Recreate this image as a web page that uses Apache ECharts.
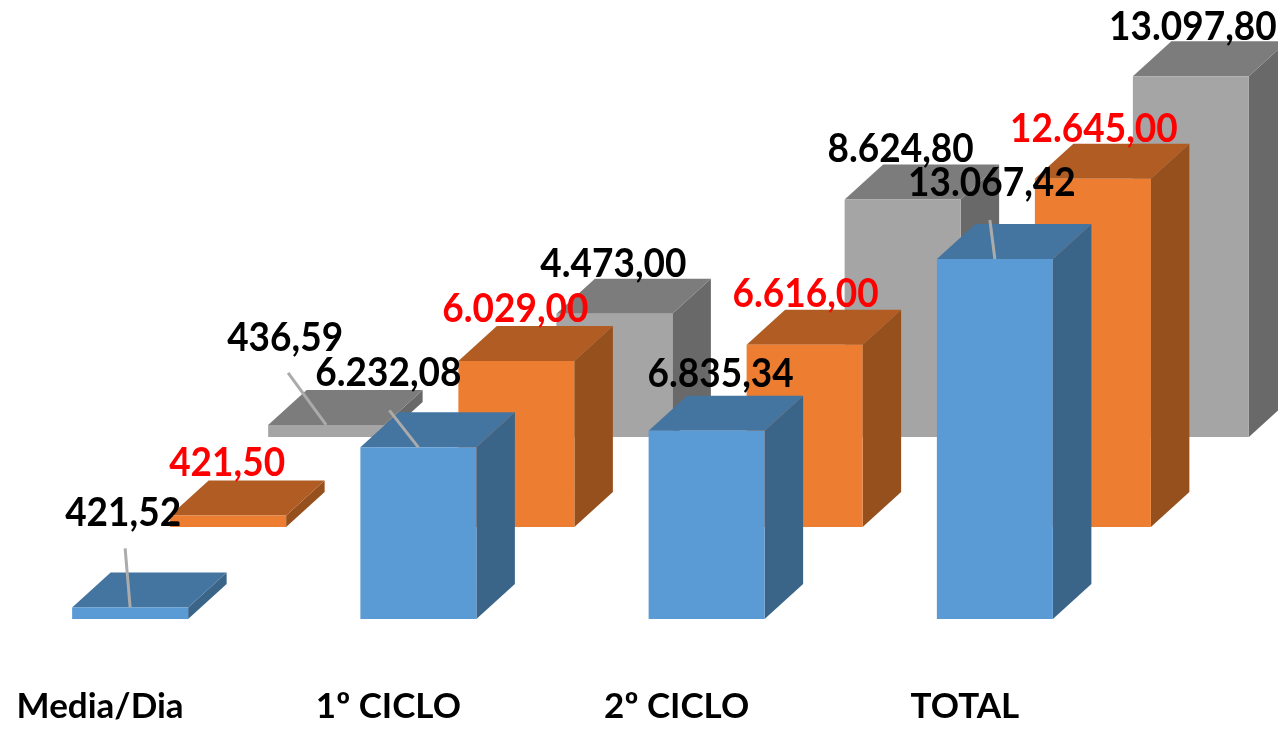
<!DOCTYPE html>
<html>
<head>
<meta charset="utf-8">
<style>html,body{margin:0;padding:0;background:#fff}#c{width:1278px;height:729px}</style>
<script src="https://cdn.jsdelivr.net/npm/echarts@6/dist/echarts.min.js"></script>
</head>
<body>
<div id="c"></div>
<script>
const categories = ['Media/Dia', '1º CICLO', '2º CICLO', 'TOTAL'];
const blueValues = [421.52, 6232.08, 6835.34, 13067.42];
const orangeValues = [421.50, 6029.00, 6616.00, 12645.00];
const grayValues = [436.59, 4473.00, 8624.80, 13097.80];

const FONT = 'Lato, sans-serif';
const BAR_W = 116, DX = 38.5, DY = 35;

// label placement relative to the top-centre of a bar's front face
const styles = [
  { shiftX: 226, shiftY: -182, front: '#A5A5A5', top: '#7C7C7C', side: '#696969', text: '#000',
    label: [{ x: -41, y: -87, lx: -38, ly: -52 }, { x: -1, y: -50 }, { x: -2, y: -50 }, { x: 2, y: -49 }] },
  { shiftX: 128, shiftY: -92, front: '#ED7D31', top: '#B05C22', side: '#96501E', text: '#FF0000',
    label: [{ x: -1, y: -52 }, { x: -1, y: -52 }, { x: 1, y: -51 }, { x: 1, y: -50 }] },
  { shiftX: 30, shiftY: 0, front: '#5B9BD5', top: '#4474A0', side: '#3A6588', text: '#000',
    label: [{ x: -7, y: -94, lx: -5, ly: -59 }, { x: -30, y: -74, lx: -29, ly: -37 }, { x: 14, y: -57 }, { x: -3, y: -76, lx: -5, ly: -39 }] }
];

const fmt = v => v.toLocaleString('de-DE', { minimumFractionDigits: 2, maximumFractionDigits: 2 });

function makeRender(si) {
  const s = styles[si];
  return function (params, api) {
    const i = api.value(0);
    const base = api.coord([i, 0]);
    const head = api.coord([i, api.value(1)]);
    const cx = base[0] + s.shiftX;
    const x0 = cx - BAR_W / 2, x1 = cx + BAR_W / 2;
    const y0 = base[1] + s.shiftY, y1 = head[1] + s.shiftY;
    const z = si * 2 + 1;
    const poly = (points, fill) => ({ type: 'polygon', z2: z, shape: { points }, style: { fill } });
    const lab = s.label[i];
    const children = [
      poly([[x1, y0], [x1 + DX, y0 - DY], [x1 + DX, y1 - DY], [x1, y1]], s.side),
      poly([[x0, y1], [x1, y1], [x1 + DX, y1 - DY], [x0 + DX, y1 - DY]], s.top),
      poly([[x0, y0], [x1, y0], [x1, y1], [x0, y1]], s.front)
    ];
    if (lab.lx !== undefined) {
      children.push({ type: 'line', z2: z + 1,
        shape: { x1: cx + lab.lx, y1: y1 + lab.ly, x2: cx, y2: y1 },
        style: { stroke: '#ABABAB', lineWidth: 3 } });
    }
    children.push({ type: 'text', z2: 100, x: cx + lab.x, y: y1 + lab.y, scaleY: 1.08,
      style: { text: fmt(api.value(1)), fill: s.text, font: '700 37px ' + FONT, align: 'center', verticalAlign: 'middle' } });
    return { type: 'group', children };
  };
}

const seriesData = [grayValues, orangeValues, blueValues];
const chart = echarts.init(document.getElementById('c'), null, { renderer: 'canvas' });
chart.setOption({
  animation: false,
  backgroundColor: '#fff',
  grid: { left: -44, width: 1153, top: 13, height: 606, containLabel: false, outerBoundsMode: 'none' },
  xAxis: {
    type: 'category', data: categories,
    axisLine: { show: false }, axisTick: { show: false }, splitLine: { show: false },
    axisLabel: { show: true, interval: 0, margin: 70, color: '#000', fontFamily: FONT, fontWeight: 700, fontSize: 35 }
  },
  yAxis: { type: 'value', min: 0, max: 22000, show: false, splitLine: { show: false } },
  series: seriesData.map((vals, si) => ({
    type: 'custom', clip: false, renderItem: makeRender(si),
    encode: { x: 0, y: 1 },
    data: vals.map((v, i) => [i, v])
  }))
});
</script>
</body>
</html>
